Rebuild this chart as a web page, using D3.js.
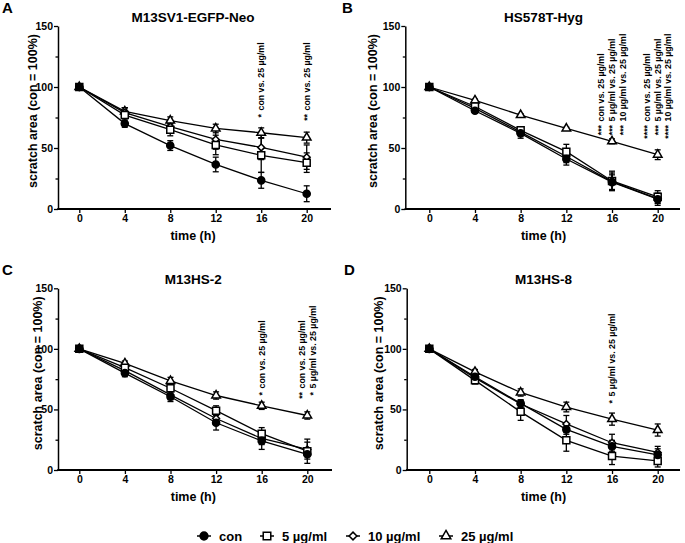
<!DOCTYPE html>
<html>
<head>
<meta charset="utf-8">
<script src="https://cdn.jsdelivr.net/npm/d3@7"></script>
<style>
  body { margin: 0; background: #fff; }
  svg { display: block; font-family: "Liberation Sans", Arial, sans-serif; font-weight: bold; }
</style>
</head>
<body>
<div id="chart"></div>
<script>
// ---- data ----
var timePoints = [0, 4, 8, 12, 16, 20];
var seriesNames = ["con", "5 µg/ml", "10 µg/ml", "25 µg/ml"];
var yTicks = [0, 50, 100, 150];
var yMinorTicks = [25, 75, 125];
var panelTitles = ["M13SV1-EGFP-Neo", "HS578T-Hyg", "M13HS-2", "M13HS-8"];
var panelLetters = ["A", "B", "C", "D"];

// rows: con, 5, 10, 25 µg/ml
var meanA = [[100, 70, 52, 36.5, 23.5, 12.5], [100, 77, 65, 52.5, 44, 38], [100, 79, 67.5, 57, 50.5, 42.5], [100, 80, 72.5, 66, 62.5, 58.5]];
var errA  = [[0, 3, 4, 6, 6.5, 6.5], [0, 6, 5, 8, 14, 8], [0, 4, 5, 8, 10, 10], [0, 3, 3, 3.5, 4, 4.5]];
var meanB = [[100, 80.5, 62, 41, 22, 8], [100, 84, 64.5, 47, 23, 10], [100, 82.5, 63, 43, 22.5, 8.5], [100, 89, 77, 66, 55.5, 44.5]];
var errB  = [[0, 2, 4, 5, 6, 5], [0, 3, 3, 6, 8, 5], [0, 2, 3, 5, 7, 4], [0, 1, 1, 1, 2, 4]];
var meanC = [[100, 80, 60.5, 39, 24, 13], [100, 84.5, 67.5, 49, 30, 15.5], [100, 82, 62, 42.5, 26, 17], [100, 88, 73.5, 61.5, 53, 45]];
var errC  = [[0, 3, 4, 6, 7, 4], [0, 3, 4, 4, 5, 10], [0, 2, 4, 5, 5, 6], [0, 2, 3, 3, 3, 3]];
var meanD = [[100, 77, 55, 33.5, 19.5, 12.5], [100, 74, 48, 24.5, 11.5, 7.5], [100, 76, 54.5, 38, 22.5, 14.5], [100, 81, 64, 52, 42, 33]];
var errD  = [[0, 2, 3, 4, 5, 5], [0, 3, 7, 9, 7, 5], [0, 2, 3, 7, 7, 5], [0, 2, 3, 4, 5, 5]];

// significance labels: [time, stars, comparison]
var annA = [[16, "*", "con vs. 25 µg/ml"], [20, "**", "con vs. 25 µg/ml"]];
var annB = [[16, "***", "con vs. 25 µg/ml"], [16, "***", "5 µg/ml vs. 25 µg/ml"], [16, "***", "10 µg/ml vs. 25 µg/ml"],
            [20, "****", "con vs. 25 µg/ml"], [20, "***", "5 µg/ml vs. 25 µg/ml"], [20, "****", "10 µg/ml vs. 25 µg/ml"]];
var annC = [[16, "*", "con vs. 25 µg/ml"], [20, "**", "con vs. 25 µg/ml"], [20, "*", "5 µg/ml vs. 25 µg/ml"]];
var annD = [[16, "*", "5 µg/ml vs. 25 µg/ml"]];

// ---- layout ----
var W = 685, H = 543;
var panels = [
  { means: meanA, errs: errA, ann: annA, axisX: 58,    x0: 79.3,  x1: 306.7, xEnd: 331, top: 26,    bottom: 209, letterX: 2,   labelX: 33,  annY: 112 },
  { means: meanB, errs: errB, ann: annB, axisX: 405.3, x0: 429.3, x1: 657.7, xEnd: 680, top: 26,    bottom: 209, letterX: 342, labelX: 373, annY: 123 },
  { means: meanC, errs: errC, ann: annC, axisX: 58,    x0: 79.3,  x1: 307.3, xEnd: 332, top: 288.3, bottom: 470, letterX: 2,   labelX: 38,  annY: 390 },
  { means: meanD, errs: errD, ann: annD, axisX: 406.7, x0: 429.3, x1: 657.7, xEnd: 680, top: 288.3, bottom: 470, letterX: 344, labelX: 379, annY: 398 }
];

var symbolTypes = [d3.symbolCircle, d3.symbolSquare, d3.symbolDiamond2 || d3.symbolDiamond, d3.symbolTriangle];
var symbolSizes = [40, 49, 30, 32];
var symbolFills = ["#000", "#fff", "#fff", "#fff"];

var svg = d3.select("#chart").append("svg")
            .attr("width", W)
            .attr("height", H);

function drawPanel(p, i) {
    var g = svg.append("g");

    var x = d3.scaleLinear().domain([0, 20]).range([p.x0, p.x1]);
    var y = d3.scaleLinear().domain([0, 150]).range([p.bottom, p.top]);

    // y axis
    var yAxis = g.append("g")
        .attr("transform", "translate(" + p.axisX + ",0)")
        .call(d3.axisLeft(y).tickValues(yTicks).tickSize(4).tickSizeOuter(0).tickPadding(1));
    yAxis.select(".domain").attr("stroke-width", 1.5);
    g.append("g")
        .attr("transform", "translate(" + p.axisX + ",0)")
        .call(d3.axisLeft(y).tickValues(yMinorTicks).tickSize(2.5).tickFormat(""))
        .select(".domain").remove();

    // x axis
    var xAxis = g.append("g")
        .attr("transform", "translate(0," + p.bottom + ")")
        .call(d3.axisBottom(x).tickValues(timePoints).tickSize(4).tickPadding(2));
    xAxis.select(".domain").remove();
    g.append("line")
        .attr("x1", p.axisX - 0.75).attr("x2", p.xEnd)
        .attr("y1", p.bottom).attr("y2", p.bottom)
        .attr("stroke", "#000").attr("stroke-width", 2);

    g.selectAll(".tick line").attr("stroke-width", 1.3);
    g.selectAll(".tick text")
        .attr("font-family", "Liberation Sans, Arial, sans-serif")
        .attr("font-weight", "bold")
        .attr("font-size", 10.5)
        .attr("fill", "#000");

    // titles
    g.append("text")
        .attr("x", (p.x0 + p.x1) / 2)
        .attr("y", p.top - 4)
        .attr("text-anchor", "middle")
        .attr("font-size", 13.5)
        .text(panelTitles[i]);

    g.append("text")
        .attr("x", p.letterX)
        .attr("y", p.top - 13)
        .attr("font-size", 15)
        .text(panelLetters[i]);

    g.append("text")
        .attr("transform", "translate(" + p.labelX + "," + (p.top + 85) + ") rotate(-90)")
        .attr("text-anchor", "middle")
        .attr("dy", "0.35em")
        .attr("font-size", 12.5)
        .text("scratch area (con = 100%)");

    g.append("text")
        .attr("x", (p.x0 + p.x1) / 2)
        .attr("y", p.bottom + 31)
        .attr("text-anchor", "middle")
        .attr("font-size", 12.5)
        .text("time (h)");

    // lines
    var line = d3.line()
        .x(function(d, k) { return x(timePoints[k]); })
        .y(function(d) { return y(d); });

    p.means.forEach(function(m) {
        g.append("path")
         .datum(m)
         .attr("fill", "none")
         .attr("stroke", "#000")
         .attr("stroke-width", 1.3)
         .attr("d", line);
    });

    // error bars
    p.means.forEach(function(m, s) {
        var eb = g.append("g").attr("stroke", "#000").attr("stroke-width", 1.3);
        m.forEach(function(v, k) {
            var e = p.errs[s][k];
            if (!e) return;
            var cx = x(timePoints[k]);
            eb.append("line").attr("x1", cx).attr("x2", cx).attr("y1", y(v - e)).attr("y2", y(v + e));
            eb.append("line").attr("x1", cx - 3).attr("x2", cx + 3).attr("y1", y(v - e)).attr("y2", y(v - e));
            eb.append("line").attr("x1", cx - 3).attr("x2", cx + 3).attr("y1", y(v + e)).attr("y2", y(v + e));
        });
    });

    // markers (25 first, con on top)
    [3, 2, 1, 0].forEach(function(s) {
        g.selectAll(".m" + s)
         .data(p.means[s])
         .enter().append("path")
         .attr("class", "m" + s)
         .attr("transform", function(d, k) { return "translate(" + x(timePoints[k]) + "," + y(d) + ")"; })
         .attr("d", d3.symbol().type(symbolTypes[s]).size(symbolSizes[s]))
         .attr("fill", symbolFills[s])
         .attr("stroke", "#000")
         .attr("stroke-width", 1.5);
    });

    // significance annotations
    var groups = d3.group(p.ann, function(d) { return d[0]; });
    groups.forEach(function(list, t) {
        list.forEach(function(a, j) {
            var cx = x(t) + (j - (list.length - 1) / 2) * 10.7;
            var ag = g.append("g")
                .attr("transform", "translate(" + cx + "," + p.annY + ") rotate(-90)")
                .attr("font-size", 8.8);
            ag.append("text")
              .attr("x", -2)
              .attr("dy", "0.35em")
              .attr("text-anchor", "end")
              .text(a[1]);
            ag.append("text")
              .attr("x", 1.5)
              .attr("dy", "0.35em")
              .text(a[2]);
        });
    });
}

panels.forEach(drawPanel);

// legend
var legendX = [204, 267, 353, 446];
var legendY = 536;
var legend = svg.append("g");
seriesNames.forEach(function(name, s) {
    var lx = legendX[s];
    legend.append("line")
          .attr("x1", lx - 7).attr("x2", lx + 7)
          .attr("y1", legendY).attr("y2", legendY)
          .attr("stroke", "#000").attr("stroke-width", 1.5);
    legend.append("path")
          .attr("transform", "translate(" + lx + "," + legendY + ")")
          .attr("d", d3.symbol().type(symbolTypes[s]).size(symbolSizes[s] + 8))
          .attr("fill", symbolFills[s])
          .attr("stroke", "#000")
          .attr("stroke-width", 1.5);
    legend.append("text")
          .attr("x", lx + 15)
          .attr("y", legendY + 5)
          .attr("font-size", 13)
          .text(name);
});
</script>
</body>
</html>
